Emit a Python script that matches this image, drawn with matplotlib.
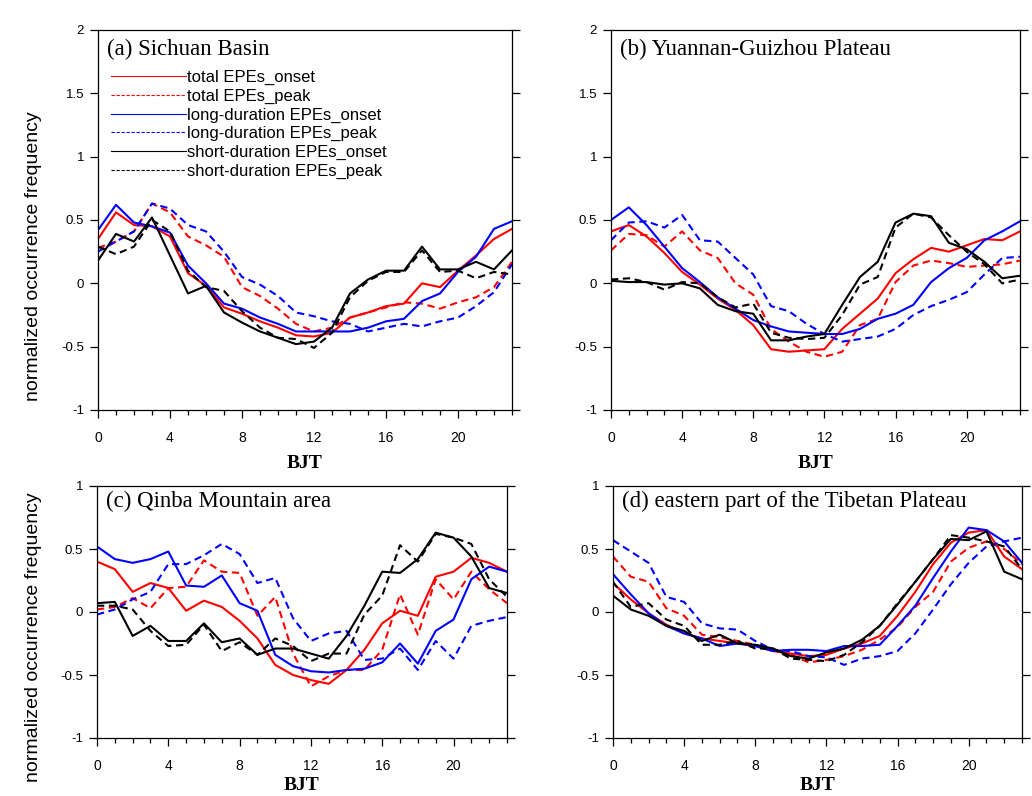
import matplotlib
matplotlib.use("Agg")
import matplotlib.pyplot as plt
from matplotlib.lines import Line2D
from matplotlib.ticker import MultipleLocator, FuncFormatter

plt.rcParams['axes.unicode_minus'] = False

hours = list(range(24))

# (a) Sichuan Basin
total_onset_a = [0.35, 0.56, 0.46, 0.45, 0.37, 0.08, -0.02, -0.19, -0.24, -0.30, -0.35, -0.41, -0.42, -0.39, -0.27, -0.23, -0.18, -0.16, 0.0, -0.03, 0.10, 0.22, 0.35, 0.43]
total_peak_a = [0.28, 0.33, 0.41, 0.63, 0.56, 0.37, 0.30, 0.21, -0.03, -0.10, -0.20, -0.32, -0.38, -0.35, -0.27, -0.23, -0.19, -0.15, -0.16, -0.20, -0.15, -0.11, -0.03, 0.17]
long_onset_a = [0.42, 0.62, 0.48, 0.45, 0.40, 0.14, 0.0, -0.16, -0.20, -0.27, -0.32, -0.38, -0.38, -0.38, -0.38, -0.35, -0.30, -0.28, -0.14, -0.08, 0.09, 0.21, 0.43, 0.49]
long_peak_a = [0.25, 0.33, 0.41, 0.63, 0.59, 0.46, 0.41, 0.25, 0.05, -0.01, -0.10, -0.23, -0.26, -0.30, -0.32, -0.38, -0.35, -0.32, -0.34, -0.30, -0.27, -0.18, -0.07, 0.15]
short_onset_a = [0.18, 0.39, 0.33, 0.52, 0.22, -0.08, -0.02, -0.23, -0.31, -0.38, -0.43, -0.48, -0.46, -0.35, -0.08, 0.03, 0.10, 0.10, 0.29, 0.11, 0.11, 0.17, 0.11, 0.26]
short_peak_a = [0.29, 0.23, 0.29, 0.50, 0.41, 0.10, -0.03, -0.06, -0.22, -0.35, -0.43, -0.44, -0.51, -0.39, -0.11, 0.02, 0.09, 0.09, 0.26, 0.09, 0.10, 0.04, 0.09, 0.07]

# (b) Yuannan-Guizhou Plateau
total_onset_b = [0.41, 0.46, 0.37, 0.24, 0.09, -0.01, -0.12, -0.21, -0.33, -0.52, -0.54, -0.53, -0.52, -0.36, -0.24, -0.12, 0.08, 0.19, 0.28, 0.25, 0.30, 0.35, 0.34, 0.41]
total_peak_b = [0.26, 0.39, 0.38, 0.29, 0.41, 0.26, 0.20, 0.0, -0.09, -0.36, -0.46, -0.54, -0.58, -0.54, -0.33, -0.28, 0.01, 0.14, 0.18, 0.16, 0.13, 0.14, 0.15, 0.18]
long_onset_b = [0.50, 0.60, 0.46, 0.29, 0.12, 0.01, -0.11, -0.20, -0.29, -0.34, -0.38, -0.39, -0.40, -0.40, -0.36, -0.28, -0.24, -0.17, 0.01, 0.12, 0.20, 0.34, 0.41, 0.49]
long_peak_b = [0.34, 0.48, 0.49, 0.44, 0.54, 0.34, 0.33, 0.20, 0.07, -0.18, -0.22, -0.32, -0.40, -0.46, -0.44, -0.42, -0.36, -0.25, -0.18, -0.13, -0.07, 0.07, 0.20, 0.21]
short_onset_b = [0.02, 0.01, 0.01, -0.01, 0.0, -0.04, -0.17, -0.22, -0.24, -0.45, -0.45, -0.42, -0.40, -0.17, 0.05, 0.17, 0.48, 0.55, 0.53, 0.32, 0.27, 0.17, 0.04, 0.06]
short_peak_b = [0.03, 0.04, 0.01, -0.05, 0.01, 0.0, -0.11, -0.19, -0.16, -0.39, -0.43, -0.44, -0.43, -0.25, -0.01, 0.05, 0.44, 0.55, 0.52, 0.38, 0.25, 0.15, 0.0, 0.03]

# (c) Qinba Mountain area
total_onset_c = [0.40, 0.34, 0.16, 0.23, 0.19, 0.01, 0.09, 0.04, -0.07, -0.21, -0.42, -0.50, -0.54, -0.57, -0.46, -0.30, -0.09, 0.01, -0.03, 0.28, 0.32, 0.43, 0.39, 0.32]
total_peak_c = [0.02, 0.04, 0.11, 0.03, 0.19, 0.20, 0.41, 0.32, 0.31, -0.03, 0.12, -0.33, -0.59, -0.51, -0.46, -0.46, -0.30, 0.14, -0.18, 0.26, 0.10, 0.32, 0.18, 0.07]
long_onset_c = [0.52, 0.42, 0.39, 0.42, 0.48, 0.21, 0.20, 0.29, 0.07, 0.01, -0.34, -0.43, -0.47, -0.48, -0.46, -0.45, -0.40, -0.25, -0.41, -0.15, -0.06, 0.26, 0.36, 0.32]
long_peak_c = [-0.02, 0.02, 0.10, 0.16, 0.38, 0.38, 0.45, 0.54, 0.46, 0.23, 0.27, -0.05, -0.23, -0.17, -0.15, -0.38, -0.37, -0.29, -0.46, -0.23, -0.37, -0.11, -0.07, -0.04]
short_onset_c = [0.07, 0.08, -0.19, -0.11, -0.23, -0.23, -0.09, -0.24, -0.21, -0.34, -0.29, -0.29, -0.33, -0.37, -0.19, 0.05, 0.32, 0.31, 0.42, 0.63, 0.59, 0.44, 0.19, 0.15]
short_peak_c = [0.05, 0.05, 0.02, -0.15, -0.27, -0.26, -0.10, -0.31, -0.24, -0.34, -0.21, -0.27, -0.39, -0.33, -0.33, -0.02, 0.13, 0.53, 0.40, 0.62, 0.59, 0.54, 0.26, 0.12]

# (d) eastern part of the Tibetan Plateau
total_onset_d = [0.23, 0.10, -0.01, -0.10, -0.17, -0.21, -0.23, -0.25, -0.27, -0.31, -0.33, -0.35, -0.34, -0.29, -0.25, -0.19, -0.03, 0.16, 0.38, 0.55, 0.63, 0.65, 0.44, 0.34]
total_peak_d = [0.44, 0.28, 0.24, 0.03, -0.03, -0.18, -0.20, -0.23, -0.26, -0.30, -0.34, -0.40, -0.38, -0.35, -0.30, -0.22, -0.12, 0.04, 0.16, 0.40, 0.51, 0.56, 0.50, 0.38]
long_onset_d = [0.30, 0.14, -0.01, -0.11, -0.17, -0.21, -0.27, -0.25, -0.27, -0.31, -0.30, -0.30, -0.31, -0.27, -0.27, -0.26, -0.11, 0.05, 0.27, 0.48, 0.67, 0.65, 0.56, 0.39]
long_peak_d = [0.57, 0.48, 0.39, 0.12, 0.08, -0.09, -0.13, -0.14, -0.23, -0.30, -0.31, -0.35, -0.36, -0.42, -0.37, -0.35, -0.31, -0.17, 0.02, 0.22, 0.39, 0.52, 0.56, 0.59]
short_onset_d = [0.13, 0.02, -0.03, -0.11, -0.15, -0.23, -0.18, -0.25, -0.26, -0.29, -0.35, -0.37, -0.32, -0.29, -0.22, -0.11, 0.06, 0.24, 0.42, 0.58, 0.57, 0.64, 0.32, 0.26]
short_peak_d = [0.24, 0.04, 0.07, -0.06, -0.11, -0.26, -0.26, -0.23, -0.29, -0.29, -0.37, -0.38, -0.39, -0.34, -0.24, -0.11, 0.07, 0.24, 0.42, 0.61, 0.59, 0.56, 0.52, 0.34]

series_names = ['total EPEs_onset', 'total EPEs_peak',
                'long-duration EPEs_onset', 'long-duration EPEs_peak',
                'short-duration EPEs_onset', 'short-duration EPEs_peak']
colors = ['#ff0000', '#ff0000', '#0000ff', '#0000ff', '#000000', '#000000']
dashed = [False, True, False, True, False, True]

titles = ['(a) Sichuan Basin', '(b) Yuannan-Guizhou Plateau',
          '(c) Qinba Mountain area', '(d) eastern part of the Tibetan Plateau']
panel_data = [
    [total_onset_a, total_peak_a, long_onset_a, long_peak_a, short_onset_a, short_peak_a],
    [total_onset_b, total_peak_b, long_onset_b, long_peak_b, short_onset_b, short_peak_b],
    [total_onset_c, total_peak_c, long_onset_c, long_peak_c, short_onset_c, short_peak_c],
    [total_onset_d, total_peak_d, long_onset_d, long_peak_d, short_onset_d, short_peak_d],
]
ylims = [(-1, 2), (-1, 2), (-1, 1), (-1, 1)]

W, H = 1032, 796
# axes boxes in pixels: left, top, right, bottom
boxes = [(98, 30, 512, 410), (611, 30, 1020, 410),
         (97, 486, 507, 738), (613, 486, 1022, 738)]

SANS = ['Liberation Sans', 'DejaVu Sans']
SERIF = ['Liberation Serif', 'DejaVu Serif']

fig = plt.figure(figsize=(W / 100, H / 100), dpi=100)
fig.patch.set_facecolor('white')

fmt = FuncFormatter(lambda v, p: '%g' % v)

for i in range(4):
    l, t, r, b = boxes[i]
    ax = fig.add_axes([l / W, 1 - b / H, (r - l) / W, (b - t) / H])
    for k in range(6):
        ls = (0, (3.5, 2.2)) if dashed[k] else '-'
        ax.plot(hours, panel_data[i][k], color=colors[k], lw=1.5, linestyle=ls)
    ax.set_xlim(0, 23)
    ax.set_ylim(*ylims[i])
    ax.xaxis.set_major_locator(MultipleLocator(4))
    ax.xaxis.set_minor_locator(MultipleLocator(1))
    ax.yaxis.set_major_locator(MultipleLocator(0.5))
    ax.yaxis.set_major_formatter(fmt)
    ax.tick_params(axis='both', which='both', direction='out', top=False,
                   right=True, width=0.9)
    ax.tick_params(axis='x', which='major', length=6, pad=9, labelsize=10)
    ax.tick_params(axis='x', which='minor', length=3.5)
    ax.tick_params(axis='y', which='major', length=6, pad=4, labelsize=9.5)
    for lab in ax.get_xticklabels() + ax.get_yticklabels():
        lab.set_family(SANS)
    for sp in ax.spines.values():
        sp.set_linewidth(0.9)
    ax.set_xlabel('BJT', family=SERIF, fontweight='bold', fontsize=14,
                  labelpad=7 if i < 2 else 3)
    ty = 0.95 if i < 2 else 0.94
    ax.text(0.022, ty, titles[i], transform=ax.transAxes, va='center', ha='left',
            family=SERIF, fontsize=16.5)

    if i == 0:
        handles = [Line2D([], [], color=colors[k], lw=0.8,
                          linestyle=(0, (3, 1.5)) if dashed[k] else '-')
                   for k in range(6)]
        ax.legend(handles, series_names, loc='upper left',
                  bbox_to_anchor=(0.032, 0.895), frameon=False,
                  prop={'family': SANS, 'size': 12},
                  handlelength=4.5, handletextpad=0.05, labelspacing=0.22,
                  borderpad=0, borderaxespad=0)

fig.text(34 / W, 1 - 256 / H, 'normalized occurrence frequency', rotation=90,
         ha='center', va='center', family=SANS, fontsize=14)
fig.text(34 / W, 1 - 637 / H, 'normalized occurrence frequency', rotation=90,
         ha='center', va='center', family=SANS, fontsize=14)

fig.savefig('out.png', dpi=100, facecolor='white')
